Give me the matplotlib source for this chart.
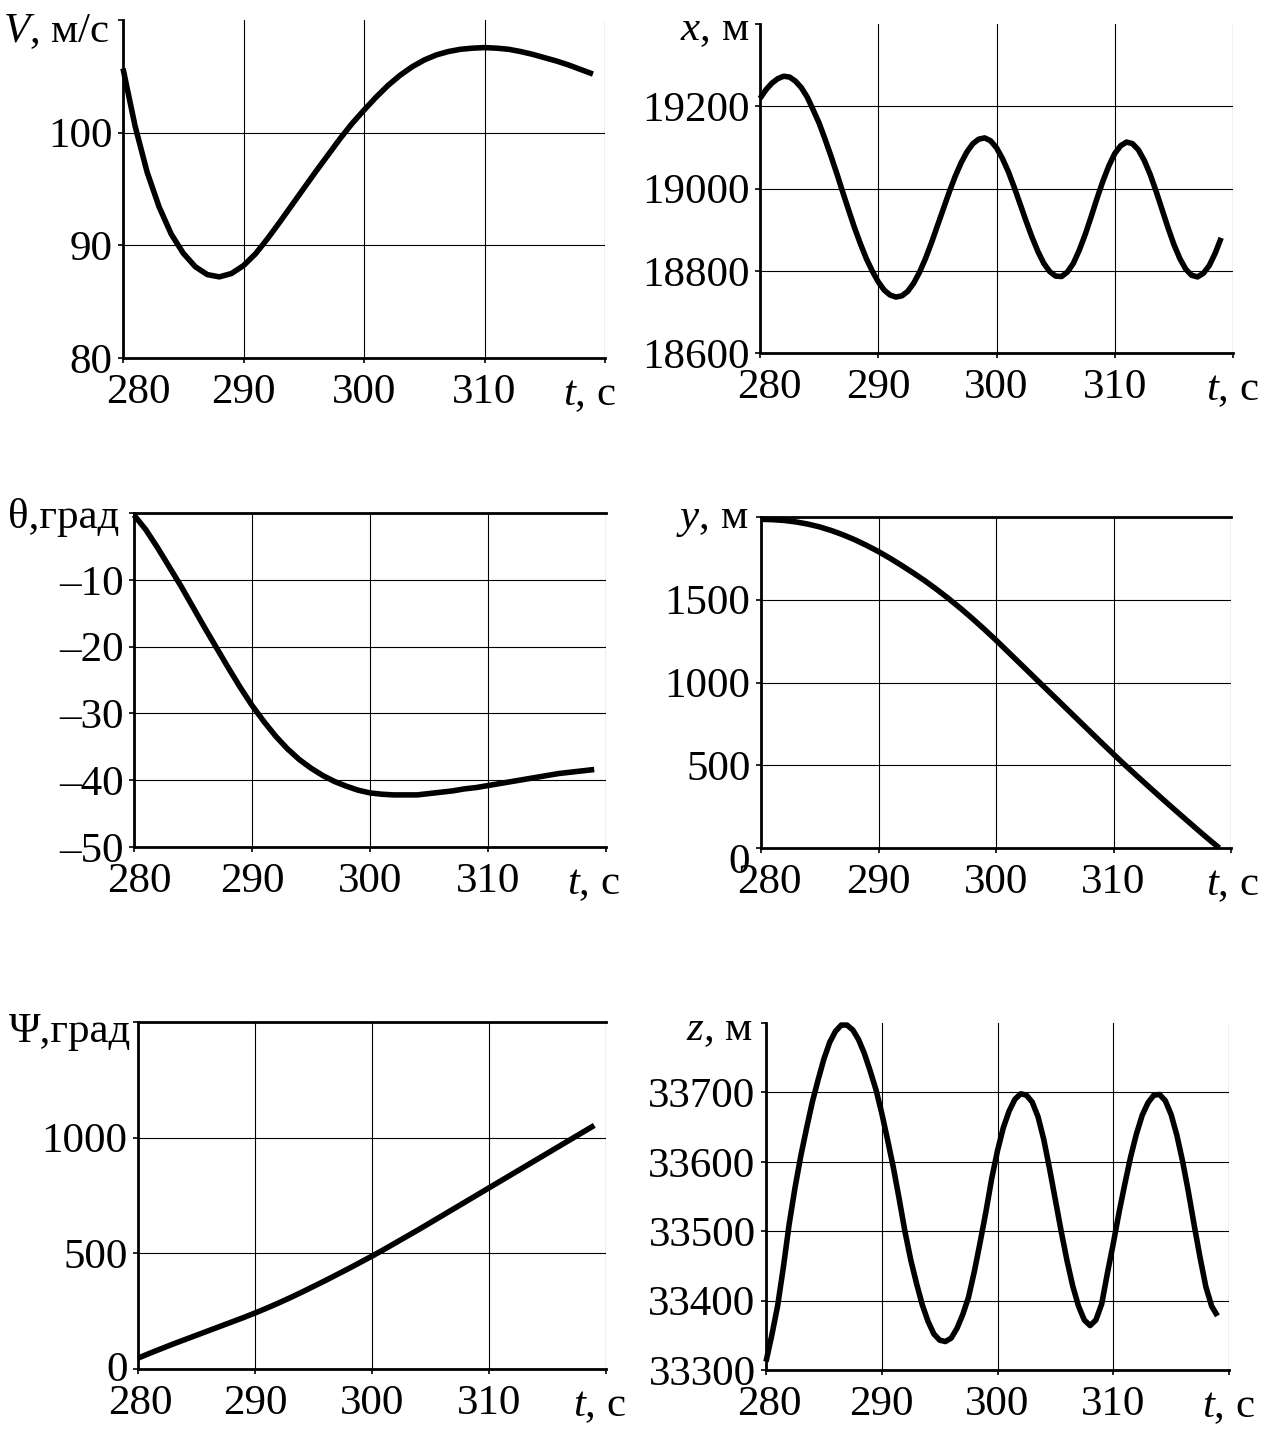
import numpy as np
import matplotlib
matplotlib.use("Agg")
import matplotlib.pyplot as plt
from matplotlib.transforms import ScaledTranslation

plt.rcParams["font.family"] = ["Liberation Serif", "DejaVu Serif"]
plt.rcParams["mathtext.fontset"] = "custom"
plt.rcParams["mathtext.it"] = "Liberation Serif:italic"
plt.rcParams["mathtext.rm"] = "Liberation Serif"

W, H = 1271, 1429
FS = 31

t1 = np.arange(280, 320, 1.0)      # 280 .. 319, step 1
t05 = np.arange(280, 319.5, 0.5)   # 280 .. 319, step 0.5

# V, m/s (step 1 s)
V = [105.7, 100.6, 96.5, 93.4, 91.0, 89.3, 88.1, 87.4, 87.2, 87.5,
     88.2, 89.25, 90.6, 92.05, 93.55, 95.05, 96.55, 98.0, 99.45, 100.8,
     102.0, 103.15, 104.2, 105.1, 105.85, 106.45, 106.9, 107.2, 107.4, 107.5,
     107.55, 107.5, 107.4, 107.2, 106.95, 106.65, 106.35, 106.0, 105.6, 105.2]

# x, m (step 0.5 s)
X = [19219, 19240, 19256, 19267, 19273, 19271, 19261, 19245, 19222, 19191,
     19159, 19120, 19079, 19036, 18991, 18947, 18904, 18865, 18829, 18799,
     18773, 18753, 18741, 18736, 18739, 18750, 18770, 18797, 18830, 18868,
     18909, 18950, 18991, 19029, 19062, 19089, 19109, 19120, 19123, 19116,
     19099, 19073, 19041, 19003, 18962, 18921, 18882, 18847, 18818, 18798,
     18787, 18786, 18797, 18818, 18850, 18888, 18931, 18976, 19018, 19055,
     19085, 19104, 19113, 19109, 19094, 19068, 19034, 18993, 18949, 18905,
     18864, 18830, 18804, 18789, 18785, 18794, 18813, 18843, 18880]

# theta, deg (step 1 s)
THETA = [-0.3, -2.5, -5.2, -8.1, -11.0, -14.1, -17.2, -20.2, -23.2, -26.1,
         -28.8, -31.2, -33.4, -35.3, -36.9, -38.2, -39.3, -40.2, -40.9, -41.5,
         -41.9, -42.1, -42.2, -42.2, -42.2, -42.0, -41.8, -41.6, -41.3, -41.1,
         -40.8, -40.5, -40.2, -39.9, -39.6, -39.3, -39.0, -38.8, -38.6, -38.4]

# y, m (step 1 s)
Y = [1986, 1984, 1979, 1970, 1957, 1940, 1918, 1892, 1862, 1828,
     1791, 1750, 1706, 1660, 1612, 1560, 1505, 1447, 1386, 1322,
     1256, 1187, 1118, 1049, 980, 911, 842, 773, 704, 635,
     567, 500, 435, 371, 307, 244, 182, 120, 59, 0]

# psi, deg (step 1 s)
PSI = [47, 68, 88, 108, 127, 146, 165, 184, 203, 222,
       242, 263, 285, 308, 332, 357, 382, 408, 434, 461,
       488, 516, 545, 574, 603, 633, 663, 693, 723, 753,
       783, 813, 843, 873, 903, 933, 963, 993, 1023, 1053]

# z, m (step 0.5 s)
Z = [33312, 33350, 33392, 33448, 33510, 33562, 33608, 33648, 33686, 33718,
     33748, 33772, 33788, 33797, 33797, 33790, 33776, 33756, 33731, 33704,
     33670, 33632, 33592, 33547, 33500, 33459, 33425, 33394, 33370, 33352,
     33343, 33341, 33346, 33360, 33380, 33405, 33442, 33484, 33528, 33576,
     33616, 33649, 33673, 33690, 33698, 33696, 33686, 33665, 33632, 33590,
     33545, 33500, 33458, 33421, 33392, 33372, 33364, 33372, 33395, 33440,
     33482, 33527, 33568, 33607, 33640, 33667, 33685, 33696, 33697, 33688,
     33668, 33638, 33600, 33556, 33508, 33462, 33420, 33392, 33378]

XTICKS = [280, 290, 300, 310, 320]
XLABELS = ["280", "290", "300", "310", ""]

fig = plt.figure(figsize=(W / 100, H / 100), dpi=100)


def px_box(l, t, r, b):
    return [l / W, 1 - b / H, (r - l) / W, (b - t) / H]


def shift(artist, dx, dy):
    # move a text by (dx, dy) pixels
    artist.set_transform(artist.get_transform()
                         + ScaledTranslation(dx / 100, dy / 100, fig.dpi_scale_trans))


def panel(box, t, vals, ylim, yticks, ylabels, name, name_gap, name_base,
          tc_dx, top=False, dx280=0):
    ax = fig.add_axes(px_box(*box))
    ax.plot(t, vals, color="black", lw=4, clip_on=False, zorder=3,
            solid_joinstyle="round", solid_capstyle="butt")
    ax.set_xlim(280, 320)
    ax.set_ylim(*ylim)
    ax.set_xticks(XTICKS)
    ax.set_xticklabels(XLABELS)
    ax.set_yticks(yticks)
    ax.set_yticklabels(ylabels)
    ax.grid(True, color="black", lw=0.8)
    if not top:
        ax.yaxis.get_gridlines()[-1].set_visible(False)
    ax.tick_params(direction="out", length=3.5, width=1.2, labelsize=FS, colors="black")
    ax.tick_params(axis="y", pad=4)
    ax.tick_params(axis="x", pad=7.5)
    for s in ("left", "bottom"):
        ax.spines[s].set_linewidth(2.0)
    ax.spines["right"].set_visible(False)
    if top:
        ax.spines["top"].set_linewidth(2.0)
    else:
        ax.spines["top"].set_visible(False)
    shift(ax.get_xticklabels()[0], dx280, 0)
    ax.annotate(name, xy=(0, 1), xycoords="axes fraction", xytext=(-name_gap, -name_base),
                textcoords="offset pixels", ha="right", va="baseline", fontsize=FS)
    ax.annotate(r"$t$, с", xy=(1, 0), xycoords="axes fraction", xytext=(tc_dx, -47),
                textcoords="offset pixels", ha="right", va="baseline", fontsize=FS)
    return ax


panel((123, 20, 605, 358), t1, V, (80, 110), [80, 90, 100, 110],
      ["80", "90", "100", ""], r"$V$, м/с", 13, 22, 11, dx280=15)

panel((760, 24, 1233, 353), t05, X, (18600, 19400),
      [18600, 18800, 19000, 19200, 19400],
      ["18600", "18800", "19000", "19200", ""], r"$x$, м", 11, 16, 26, dx280=9)

panel((134, 513, 606, 847), t1, THETA, (-50, 0), [-50, -40, -30, -20, -10, 0],
      ["\u201350", "\u201340", "\u201330", "\u201320", "\u201310", ""],
      "θ,град", 15, 15, 14, top=True, dx280=5)

ax4 = panel((761, 517, 1231, 848), t1, Y, (0, 2000), [0, 500, 1000, 1500, 2000],
            ["", "500", "1000", "1500", ""], r"$y$, м", 13, 11, 28, top=True, dx280=8)
ax4.annotate("0", xy=(0, 0), xycoords="axes fraction", xytext=(-11, -15),
             textcoords="offset pixels", ha="right", va="center", fontsize=FS)

ax5 = panel((138, 1022, 606, 1369), t1, PSI, (0, 1500), [0, 500, 1000, 1500],
            ["0", "500", "1000", ""], "Ψ,град", 7, 20, 20, top=True, dx280=2)
shift(ax5.get_yticklabels()[0], 0, 3)

panel((766, 1023, 1229, 1370), t05, Z, (33300, 33800),
      [33300, 33400, 33500, 33600, 33700, 33800],
      ["33300", "33400", "33500", "33600", "33700", ""], r"$z$, м", 13, 17, 26, dx280=3)

fig.savefig("out.png", dpi=100)
